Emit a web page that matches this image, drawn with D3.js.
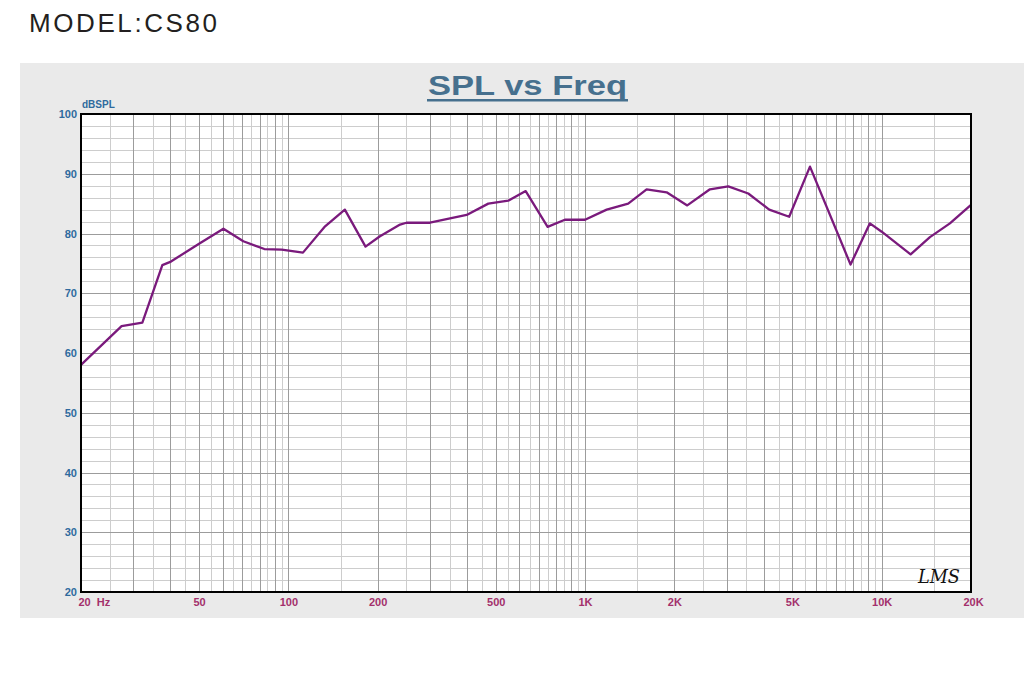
<!DOCTYPE html>
<html>
<head>
<meta charset="utf-8">
<script src="https://cdn.jsdelivr.net/npm/d3@7"></script>
<style>
  body { margin: 0; background: #ffffff; }
  svg { display: block; }
</style>
</head>
<body>
<div class="graph"></div>
<script>

// data (freq in Hz, level in dB SPL)
var freqs = [20, 27.4, 32.2, 37.6, 40.2, 50, 60.4, 70.5, 83, 95, 112, 133, 155, 182, 203, 238, 250, 300, 399, 472, 551, 631, 748, 855, 1000, 1183, 1398, 1613, 1884, 2211, 2637, 3040, 3550, 4177, 4877, 5731, 7853, 9125, 10000, 12516, 14540, 16980, 20000];
var spl   = [58, 64.5, 65.1, 74.7, 75.3, 78.3, 80.8, 78.7, 77.4, 77.3, 76.8, 81.2, 84.0, 77.8, 79.5, 81.5, 81.8, 81.8, 83.1, 85.0, 85.5, 87.1, 81.1, 82.3, 82.3, 84.0, 85.0, 87.4, 86.9, 84.7, 87.4, 87.9, 86.7, 84.0, 82.8, 91.2, 74.8, 81.7, 80.3, 76.5, 79.4, 81.7, 84.8];

var yTicks = [20, 30, 40, 50, 60, 70, 80, 90, 100];
var xTicks = [20, 50, 100, 200, 500, 1000, 2000, 5000, 10000, 20000];
var xTickLabels = ["20  Hz", "50", "100", "200", "500", "1K", "2K", "5K", "10K", "20K"];

var svgWidth = 1024;
var svgHeight = 687;

var plotLeft = 81, plotRight = 971, plotTop = 114, plotBottom = 592;

var svg = d3.select("div.graph")
    .append("svg")
    .attr("width", svgWidth)
    .attr("height", svgHeight);

// model caption
svg.append("text")
    .attr("x", 29).attr("y", 32)
    .attr("textLength", 188).attr("lengthAdjust", "spacing")
    .style("font-family", "'Liberation Sans', Arial, sans-serif")
    .style("font-size", "26px")
    .style("fill", "#231f20")
    .text("MODEL:CS80");

// grey panel
svg.append("rect")
    .attr("x", 20).attr("y", 63)
    .attr("width", svgWidth - 20).attr("height", 555)
    .style("fill", "#eaeaea");

var x = d3.scaleLog().domain([20, 20000]).range([plotLeft, plotRight]);
var y = d3.scaleLinear().domain([20, 100]).range([plotBottom, plotTop]);

svg.append("rect")
    .attr("x", plotLeft).attr("y", plotTop)
    .attr("width", plotRight - plotLeft).attr("height", plotBottom - plotTop)
    .style("fill", "#ffffff");

// grid: minor (half steps) light, major darker
var minorX = [], majorX = [];
[10, 100, 1000, 10000].forEach(function (dec) {
    for (var k = 1; k <= 9.5; k += 0.5) {
        var f = k * dec;
        if (f <= 20 || f >= 20000) continue;
        if (k % 1 === 0) majorX.push(f); else minorX.push(f);
    }
});
var minorY = d3.range(22, 100, 2).filter(function (v) { return v % 10 !== 0; });
var majorY = d3.range(30, 100, 10);

var gGrid = svg.append("g");
gGrid.selectAll("line.mx").data(minorX).enter().append("line")
    .attr("x1", function (d) { return Math.round(x(d)) + 0.5; })
    .attr("x2", function (d) { return Math.round(x(d)) + 0.5; })
    .attr("y1", plotTop).attr("y2", plotBottom)
    .style("stroke", "#cdcdcd").style("stroke-width", 1);
gGrid.selectAll("line.my").data(minorY).enter().append("line")
    .attr("y1", function (d) { return Math.round(y(d)) + 0.5; })
    .attr("y2", function (d) { return Math.round(y(d)) + 0.5; })
    .attr("x1", plotLeft).attr("x2", plotRight)
    .style("stroke", "#cdcdcd").style("stroke-width", 1);
gGrid.selectAll("line.Mx").data(majorX).enter().append("line")
    .attr("x1", function (d) { return Math.round(x(d)) + 0.5; })
    .attr("x2", function (d) { return Math.round(x(d)) + 0.5; })
    .attr("y1", plotTop).attr("y2", plotBottom)
    .style("stroke", "#9c9c9c").style("stroke-width", 1);
gGrid.selectAll("line.My").data(majorY).enter().append("line")
    .attr("y1", function (d) { return Math.round(y(d)) + 0.5; })
    .attr("y2", function (d) { return Math.round(y(d)) + 0.5; })
    .attr("x1", plotLeft).attr("x2", plotRight)
    .style("stroke", "#9c9c9c").style("stroke-width", 1);

// curve
var pts = freqs.map(function (f, i) { return [f, spl[i]]; });
var line = d3.line()
    .x(function (d) { return x(d[0]); })
    .y(function (d) { return y(d[1]); });
svg.append("path")
    .datum(pts)
    .attr("d", line)
    .style("fill", "none")
    .style("stroke", "#7a1a7c")
    .style("stroke-width", 2.3)
    .style("stroke-linejoin", "round");

// frame
svg.append("rect")
    .attr("x", plotLeft).attr("y", plotTop)
    .attr("width", plotRight - plotLeft).attr("height", plotBottom - plotTop)
    .style("fill", "none").style("stroke", "#000").style("stroke-width", 2);

// axes (labels only, no ticks)
var yAxis = d3.axisLeft(y).tickValues(yTicks).tickSize(0).tickPadding(4);
var gY = svg.append("g").attr("transform", "translate(" + plotLeft + ",0)").call(yAxis);
gY.select(".domain").remove();
gY.selectAll("text")
    .style("font-family", "'Liberation Sans', Arial, sans-serif")
    .style("font-weight", "bold").style("font-size", "11px")
    .style("fill", "#2f6a9e");

var xAxis = d3.axisBottom(x).tickValues(xTicks).tickSize(0).tickPadding(6)
    .tickFormat(function (d, i) { return xTickLabels[i]; });
var gX = svg.append("g").attr("transform", "translate(0," + plotBottom + ")").call(xAxis);
gX.select(".domain").remove();
gX.selectAll("text")
    .style("font-family", "'Liberation Sans', Arial, sans-serif")
    .style("font-weight", "bold").style("font-size", "11px")
    .style("fill", "#a3306c")
    .style("white-space", "pre")
    .attr("text-anchor", function (d) { return d === 20 ? "start" : "middle"; })
    .attr("dx", function (d) { return d === 20 ? "-3" : d === 20000 ? "2" : "0"; });

svg.append("text")
    .attr("x", 82).attr("y", 108)
    .style("font-family", "'Liberation Sans', Arial, sans-serif")
    .style("font-weight", "bold").style("font-size", "10px")
    .style("fill", "#2f6a9e")
    .text("dBSPL");

// title
svg.append("text")
    .attr("x", 428).attr("y", 95)
    .attr("textLength", 199).attr("lengthAdjust", "spacingAndGlyphs")
    .style("font-family", "'Liberation Sans', Arial, sans-serif")
    .style("font-weight", "bold").style("font-size", "27px")
    .style("fill", "#46708e")
    .text("SPL vs Freq");
svg.append("rect")
    .attr("x", 427).attr("y", 99).attr("width", 201).attr("height", 2.5)
    .style("fill", "#46708e");

// LMS mark
svg.append("text")
    .attr("x", 918).attr("y", 583)
    .attr("textLength", 42).attr("lengthAdjust", "spacingAndGlyphs")
    .style("font-family", "'DejaVu Serif', serif")
    .style("font-style", "italic").style("font-size", "19px")
    .style("fill", "#111")
    .text("LMS");

</script>
</body>
</html>
